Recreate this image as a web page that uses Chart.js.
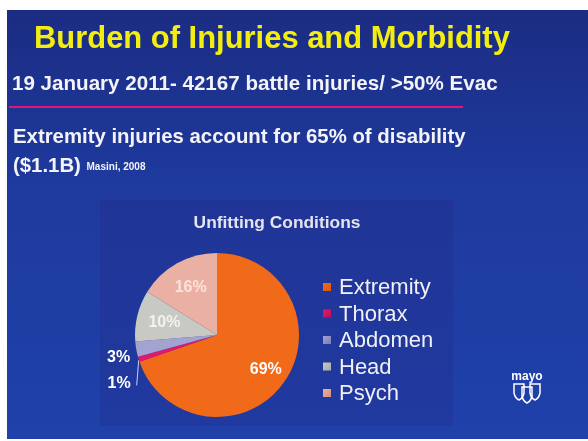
<!DOCTYPE html>
<html>
<head>
<meta charset="utf-8">
<script src="https://cdn.jsdelivr.net/npm/chart.js@4.4.1/dist/chart.umd.min.js"></script>
<style>
  html, body { margin: 0; padding: 0; background: #ffffff; }
  #wrap { width: 588px; height: 441px; }
</style>
</head>
<body>
<div id="wrap"><canvas id="slideChart" width="588" height="441"></canvas></div>
<script>
    "use strict";

    // data
    const categories = ['Extremity', 'Thorax', 'Abdomen', 'Head', 'Psych'];
    const percentages = [69, 1, 3, 10, 16];
    const sliceColors = ['#f06a1a', '#e0196e', '#a3a3d2', '#c9c9c4', '#eab0a4'];
    const sliceShades = ['#d95812', '#b8105a', '#7c7cb8', '#a9a9a4', '#d7907f'];
    const labelColors = ['#ffffff', '#ffffff', '#ffffff', '#f2f2ee', '#fbe3dc'];

    const titleText = 'Burden of Injuries and Morbidity';
    const subText = '19 January 2011- 42167 battle injuries/ >50% Evac';
    const bodyLine1 = 'Extremity injuries account for 65% of disability';
    const bodyLine2 = '($1.1B)';
    const citeText = 'Masini, 2008';
    const chartTitle = 'Unfitting Conditions';

    const FONT = "'Liberation Sans', Arial, sans-serif";

    function fitFont(ctx, text, weight, width) {
        ctx.font = weight + ' 20px ' + FONT;
        const size = 20 * width / ctx.measureText(text).width;
        return weight + ' ' + size.toFixed(2) + 'px ' + FONT;
    }

    function arcPoint(arc, angle, r) {
        return { x: arc.x + Math.cos(angle) * r, y: arc.y + Math.sin(angle) * r };
    }

    const slideBackground = {
        id: 'slideBackground',
        beforeDraw(chart) {
            const ctx = chart.ctx;
            ctx.save();
            ctx.fillStyle = '#ffffff';
            ctx.fillRect(0, 0, chart.width, chart.height);
            const g = ctx.createLinearGradient(0, 10, 0, 439);
            g.addColorStop(0, '#1b2c82');
            g.addColorStop(0.4, '#1e3a9e');
            g.addColorStop(1, '#1f41aa');
            ctx.fillStyle = g;
            ctx.fillRect(7, 10, chart.width - 7, 429);
            // chart panel, only a shade darker than the slide
            ctx.fillStyle = 'rgba(40, 30, 120, 0.2)';
            ctx.fillRect(100, 200, 353, 226);

            // texts
            ctx.textBaseline = 'alphabetic';
            ctx.textAlign = 'left';
            ctx.fillStyle = '#f4ee10';
            ctx.font = fitFont(ctx, titleText, 'bold', 476);
            ctx.fillText(titleText, 34, 48);

            ctx.fillStyle = '#f4f4f8';
            ctx.font = fitFont(ctx, subText, 'bold', 486);
            ctx.fillText(subText, 12, 90);

            ctx.strokeStyle = '#e5137a';
            ctx.lineWidth = 2;
            ctx.beginPath();
            ctx.moveTo(9, 107);
            ctx.lineTo(463, 107);
            ctx.stroke();

            ctx.font = fitFont(ctx, bodyLine1, 'bold', 453);
            ctx.fillText(bodyLine1, 13, 143);
            ctx.fillText(bodyLine2, 13, 172);
            const w2 = ctx.measureText(bodyLine2 + ' ').width;
            ctx.font = 'bold 10px ' + FONT;
            ctx.fillText(citeText, 13 + w2, 170);

            ctx.fillStyle = '#e4e4ee';
            ctx.textAlign = 'center';
            ctx.font = fitFont(ctx, chartTitle, 'bold', 167);
            ctx.fillText(chartTitle, 277, 228);

            // mayo mark
            ctx.fillStyle = '#ffffff';
            ctx.font = 'bold 12px ' + FONT;
            ctx.fillText('mayo', 527, 380);
            ctx.strokeStyle = '#ffffff';
            ctx.lineWidth = 1.5;
            [[519, 384], [527, 387], [535, 384]].forEach(function (p) {
                ctx.beginPath();
                ctx.moveTo(p[0] - 5, p[1]);
                ctx.lineTo(p[0] + 5, p[1]);
                ctx.lineTo(p[0] + 5, p[1] + 9);
                ctx.quadraticCurveTo(p[0] + 4, p[1] + 14, p[0], p[1] + 16);
                ctx.quadraticCurveTo(p[0] - 4, p[1] + 14, p[0] - 5, p[1] + 9);
                ctx.closePath();
                ctx.stroke();
            });
            ctx.restore();
        }
    };

    const sliceLabels = {
        id: 'sliceLabels',
        afterDatasetsDraw(chart) {
            const ctx = chart.ctx;
            const arcs = chart.getDatasetMeta(0).data;
            ctx.save();
            ctx.textAlign = 'center';
            ctx.textBaseline = 'middle';
            arcs.forEach(function (arc, i) {
                const text = percentages[i] + '%';
                const mid = (arc.startAngle + arc.endAngle) / 2;
                ctx.font = 'bold 16px ' + FONT;
                if (percentages[i] >= 5) {
                    const f = i === 0 ? 0.73 : 0.66;
                    const p = arcPoint(arc, mid, arc.outerRadius * f);
                    ctx.fillStyle = labelColors[i];
                    ctx.fillText(text, p.x, p.y);
                } else if (i === 2) {
                    const p = arcPoint(arc, mid, arc.outerRadius);
                    ctx.textAlign = 'right';
                    ctx.fillStyle = '#ffffff';
                    ctx.fillText(text, p.x - 6, p.y + 8);
                    ctx.textAlign = 'center';
                } else {
                    const p = arcPoint(arc, mid, arc.outerRadius);
                    ctx.strokeStyle = '#c8d0f0';
                    ctx.lineWidth = 1;
                    ctx.beginPath();
                    ctx.moveTo(p.x, p.y + 1);
                    ctx.lineTo(p.x - 2, p.y + 26);
                    ctx.stroke();
                    ctx.textAlign = 'right';
                    ctx.fillStyle = '#ffffff';
                    ctx.fillText(text, p.x - 8, p.y + 24);
                    ctx.textAlign = 'center';
                }
            });
            ctx.restore();
        }
    };

    const sideLegend = {
        id: 'sideLegend',
        afterDraw(chart) {
            const ctx = chart.ctx;
            ctx.save();
            ctx.textAlign = 'left';
            ctx.textBaseline = 'middle';
            ctx.font = '22px ' + FONT;
            categories.forEach(function (name, i) {
                const y = 287 + i * 26.5;
                const g = ctx.createLinearGradient(323, y - 4, 331, y + 4);
                g.addColorStop(0, sliceColors[i]);
                g.addColorStop(1, sliceShades[i]);
                ctx.fillStyle = g;
                ctx.fillRect(323, y - 4, 8, 8);
                ctx.fillStyle = '#f0f0f6';
                ctx.fillText(name, 339, y + 1);
            });
            ctx.restore();
        }
    };

    function sliceFill(context) {
        const i = context.dataIndex;
        const chart = context.chart;
        const arc = chart.getDatasetMeta(0).data[i];
        if (!arc || !arc.outerRadius) {
            return sliceColors[i];
        }
        const g = chart.ctx.createRadialGradient(arc.x + 10, arc.y + 20, 5, arc.x, arc.y, arc.outerRadius);
        g.addColorStop(0, sliceColors[i]);
        g.addColorStop(0.75, sliceColors[i]);
        g.addColorStop(1, sliceShades[i]);
        return g;
    }

    new Chart(document.getElementById('slideChart'), {
        type: 'pie',
        data: {
            labels: categories,
            datasets: [{
                data: percentages,
                backgroundColor: sliceFill,
                borderWidth: 0
            }]
        },
        options: {
            responsive: false,
            animation: false,
            events: [],
            layout: {
                padding: { left: 135, right: 289, top: 253, bottom: 24 }
            },
            plugins: {
                legend: { display: false },
                title: { display: false },
                tooltip: { enabled: false }
            }
        },
        plugins: [slideBackground, sliceLabels, sideLegend]
    });
</script>
</body>
</html>
